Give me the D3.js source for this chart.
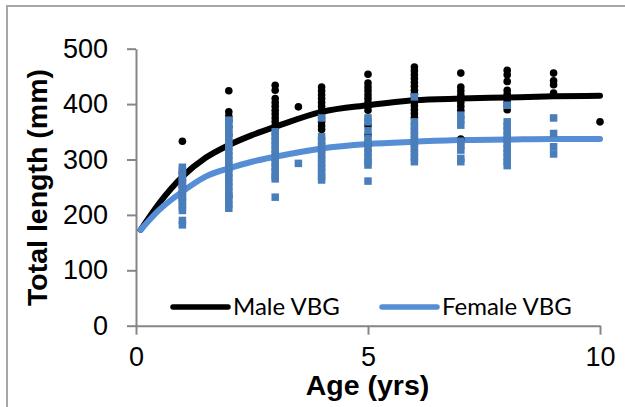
<!DOCTYPE html>
<html lang="en">
  <head>
    <meta charset="utf-8" />
    <title>Total length vs age, VBG curves</title>
    <script src="https://cdnjs.cloudflare.com/ajax/libs/d3/7.8.5/d3.min.js"></script>
    <style>
      body { margin: 0; background: #fff; }
      .tick text { font-family: "Liberation Sans", Arial, sans-serif; font-size: 27px; fill: #000; }
      .axisTitle { font-family: "Liberation Sans", Arial, sans-serif; font-size: 28.5px; font-weight: bold; }
      .legend text { font-family: Lato, "Open Sans", sans-serif; font-size: 24px; }
    </style>
  </head>
  <body>
    <script>
      // observed lengths (mm) by age (yrs)
      const maleAges = [1, 2, 3, 3.5, 4, 5, 6, 7, 8, 9, 10];
      const maleLengths = [
        [333, 276, 262, 251, 228],
        [424, 386, 378, 371, 359, 344, 234],
        [434, 425, 410, 403, 396, 389, 382, 375, 368, 361, 355],
        [395],
        [431, 424, 417, 410, 403, 396, 389, 382, 375, 368, 361, 354],
        [454, 438, 431, 424, 417, 410, 403, 396, 389, 362, 344, 326],
        [467, 460, 453, 446, 439, 432, 425, 418, 411, 404, 397, 390, 383, 376],
        [456, 431, 424, 417, 410, 403, 396, 389, 337],
        [461, 453, 441, 425, 418, 411, 404, 397, 390],
        [456, 442, 435, 420],
        [368]
      ];

      const femaleAges = [1, 2, 3, 3.5, 4, 5, 6, 7, 8, 9];
      const femaleLengths = [
        [286, 280, 274, 268, 262, 256, 250, 244, 238, 232, 226, 220, 214, 208, 190, 182],
        [371, 363, 355, 347, 339, 331, 323, 315, 307, 299, 291, 283, 275, 267, 259, 251, 243, 235, 227, 219, 212],
        [350, 342, 334, 326, 318, 310, 302, 294, 286, 278, 270, 265, 232],
        [293],
        [375, 341, 333, 325, 317, 309, 301, 293, 285, 277, 269, 263],
        [375, 368, 352, 338, 330, 320, 312, 304, 296, 290, 261],
        [413, 368, 360, 352, 344, 336, 328, 320, 312, 304, 296],
        [380, 372, 362, 333, 325, 317, 302, 296],
        [398, 368, 360, 352, 344, 336, 328, 320, 312, 304, 296, 289],
        [375, 347, 323, 310]
      ];

      // fitted von Bertalanffy curves
      const curveAges = [0.1, 0.5, 1, 1.5, 2, 2.5, 3, 4, 5, 6, 7, 8, 9, 10];
      const maleVBG = [173, 221, 269, 303, 326, 344, 359, 386, 398, 407, 410, 412, 414, 415];
      const femaleVBG = [173, 209, 242, 269, 284, 296, 305, 320, 328, 332, 335, 336, 337, 337];

      const xTicks = [0, 5, 10];
      const yTicks = [0, 100, 200, 300, 400, 500];

      const width = 625, height = 407;
      const marginLeft = 136, marginRight = 25, marginTop = 48.7, marginBottom = 81.3;

      const axisColor = '#868686';
      const maleColor = '#000000';
      const femaleLine = '#558ed5';
      const femaleMark = '#4a7ebb';

      const svg = d3.select('body').append('svg')
        .attr('width', width)
        .attr('height', height)
        .attr('viewBox', [0, 0, width, height]);

      // chart frame (only the left and top edges are inside the picture)
      svg.append('path')
        .attr('d', `M7,${height}V6H${width}`)
        .attr('fill', 'none')
        .attr('stroke', '#a6a6a6')
        .attr('stroke-width', 2);

      const x = d3.scaleLinear().domain([0, 10]).range([marginLeft, width - marginRight]);
      const y = d3.scaleLinear().domain([0, 500]).range([height - marginBottom, marginTop]);

      // axes
      svg.append('g')
        .attr('transform', `translate(0,${y(0)})`)
        .call(d3.axisBottom(x).tickValues(xTicks).tickSize(9).tickSizeOuter(0).tickPadding(12))
        .call(g => g.selectAll('.domain, .tick line').attr('stroke', axisColor).attr('stroke-width', 2));

      svg.append('g')
        .attr('transform', `translate(${x(0)},0)`)
        .call(d3.axisLeft(y).tickValues(yTicks).tickSize(9).tickSizeOuter(0).tickPadding(19))
        .call(g => g.selectAll('.domain, .tick line').attr('stroke', axisColor).attr('stroke-width', 2));

      svg.selectAll('.tick text').attr('font-family', null).attr('font-size', null);

      // axis titles
      svg.append('text')
        .attr('class', 'axisTitle')
        .attr('x', 367.5)
        .attr('y', 395)
        .attr('text-anchor', 'middle')
        .text('Age (yrs)');

      svg.append('text')
        .attr('class', 'axisTitle')
        .attr('transform', `translate(47,187.5) rotate(-90)`)
        .attr('text-anchor', 'middle')
        .text('Total length (mm)');

      // curves
      const line = d3.line()
        .x(d => x(d[0]))
        .y(d => y(d[1]))
        .curve(d3.curveMonotoneX);

      svg.append('path')
        .attr('d', line(d3.zip(curveAges, maleVBG)))
        .attr('fill', 'none')
        .attr('stroke', maleColor)
        .attr('stroke-width', 6)
        .attr('stroke-linecap', 'round');

      svg.append('path')
        .attr('d', line(d3.zip(curveAges, femaleVBG)))
        .attr('fill', 'none')
        .attr('stroke', femaleLine)
        .attr('stroke-width', 6)
        .attr('stroke-linecap', 'round');

      // observed points
      const malePts = maleAges.flatMap((a, i) => maleLengths[i].map(v => [a, v]));
      const femalePts = femaleAges.flatMap((a, i) => femaleLengths[i].map(v => [a, v]));

      svg.append('g')
        .selectAll('circle')
        .data(malePts)
        .join('circle')
        .attr('cx', d => x(d[0]))
        .attr('cy', d => y(d[1]))
        .attr('r', 3.8)
        .attr('fill', maleColor);

      const sq = 7.5;
      svg.append('g')
        .selectAll('rect')
        .data(femalePts)
        .join('rect')
        .attr('x', d => x(d[0]) - sq / 2)
        .attr('y', d => y(d[1]) - sq / 2)
        .attr('width', sq)
        .attr('height', sq)
        .attr('fill', femaleMark);

      // legend
      const legend = svg.append('g').attr('class', 'legend');
      const items = [
        { name: 'Male VBG', color: maleColor, x0: 173 },
        { name: 'Female VBG', color: femaleLine, x0: 382 }
      ];
      items.forEach(it => {
        legend.append('line')
          .attr('x1', it.x0).attr('x2', it.x0 + 55)
          .attr('y1', 307).attr('y2', 307)
          .attr('stroke', it.color)
          .attr('stroke-width', 5.5)
          .attr('stroke-linecap', 'round');
        legend.append('text')
          .attr('x', it.x0 + 60)
          .attr('y', 315)
          .attr('fill', '#000')
          .text(it.name);
      });
    </script>
  </body>
</html>
